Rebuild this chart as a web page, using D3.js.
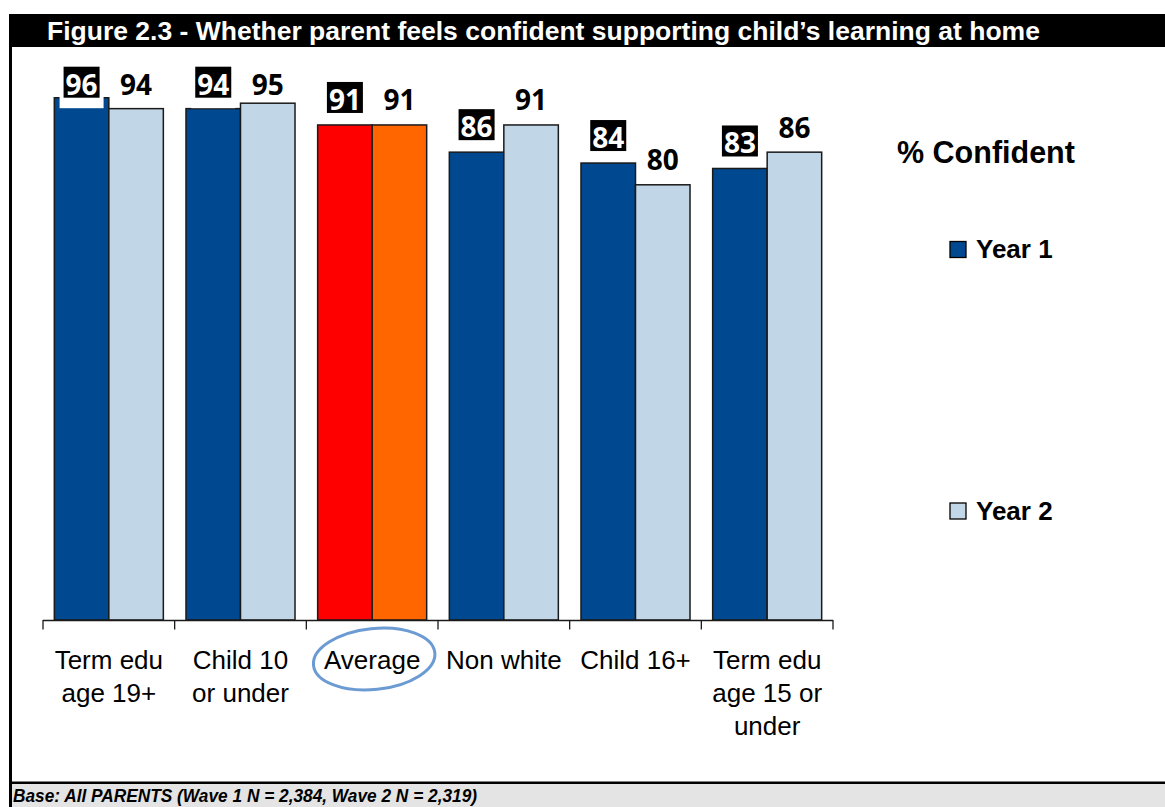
<!DOCTYPE html>
<html>
<head>
<meta charset="utf-8">
<script src="https://cdn.jsdelivr.net/npm/d3@7"></script>
<style>
  html, body { margin: 0; padding: 0; background: #ffffff; }
  svg { display: block; }
</style>
</head>
<body>
<script>
// ---- Data ----
const titleText = "Figure 2.3 - Whether parent feels confident supporting child\u2019s learning at home";
const footerText = "Base: All PARENTS (Wave 1 N = 2,384, Wave 2 N = 2,319)";
const legendTitle = "% Confident";
const seriesNames = ["Year 1", "Year 2"];
const categories = ["Term edu age 19+", "Child 10 or under", "Average", "Non white", "Child 16+", "Term edu age 15 or under"];
const categoryLines = [["Term edu", "age 19+"], ["Child 10", "or under"], ["Average"], ["Non white"], ["Child 16+"], ["Term edu", "age 15 or", "under"]];
const year1 = [96, 94, 91, 86, 84, 83];
const year2 = [94, 95, 91, 91, 80, 86];
const highlightCategory = "Average";

// ---- Styles ----
const W = 1165, H = 807;
const colYear1 = "#004990", colYear2 = "#c1d6e7";
const colAvg1 = "#ff0000", colAvg2 = "#ff6600";

const svg = d3.select("body").append("svg").attr("width", W).attr("height", H);

svg.append("rect").attr("x", 0).attr("y", 0).attr("width", W).attr("height", H).attr("fill", "#fff");

// title bar
svg.append("rect").attr("x", 9).attr("y", 14).attr("width", W - 9).attr("height", 33).attr("fill", "#000");
svg.append("text").attr("x", 47).attr("y", 40)
  .attr("fill", "#fff").attr("font-family", "Liberation Sans, Arial, sans-serif")
  .attr("font-weight", "bold").attr("font-size", 26.5).text(titleText);

// footer
svg.append("rect").attr("x", 12).attr("y", 783).attr("width", W - 12).attr("height", H - 783).attr("fill", "#e4e4e4");
svg.append("rect").attr("x", 9).attr("y", 781.5).attr("width", W - 9).attr("height", 2.5).attr("fill", "#000");
svg.append("text").attr("x", 13).attr("y", 801.5)
  .attr("fill", "#000").attr("font-family", "Liberation Sans, Arial, sans-serif")
  .attr("font-weight", "bold").attr("font-style", "italic").attr("font-size", 19)
  .attr("textLength", 464).attr("lengthAdjust", "spacingAndGlyphs").text(footerText);

// left border
svg.append("rect").attr("x", 9).attr("y", 14).attr("width", 3).attr("height", H - 14).attr("fill", "#000");

// ---- Scales ----
const pad = 0.172;
const x = d3.scaleBand().domain(categories).range([43, 833]).paddingInner(pad).paddingOuter(pad / 2);
const xs = d3.scaleBand().domain(seriesNames).range([0, x.bandwidth()]);
const y = d3.scaleLinear().domain([0, 100]).range([620, 76]);
const step = x.step();

const rows = categories.map((c, i) => ({ cat: c, v1: year1[i], v2: year2[i] }));

const groups = svg.append("g").selectAll("g").data(rows).join("g")
  .attr("transform", d => `translate(${x(d.cat)},0)`);

groups.append("rect")
  .attr("x", xs("Year 1")).attr("width", xs.bandwidth())
  .attr("y", d => y(d.v1)).attr("height", d => y(0) - y(d.v1))
  .attr("fill", d => d.cat === highlightCategory ? colAvg1 : colYear1)
  .attr("stroke", "#1a1a1a").attr("stroke-width", 1.5);
groups.append("rect")
  .attr("x", xs("Year 2")).attr("width", xs.bandwidth())
  .attr("y", d => y(d.v2)).attr("height", d => y(0) - y(d.v2))
  .attr("fill", d => d.cat === highlightCategory ? colAvg2 : colYear2)
  .attr("stroke", "#1a1a1a").attr("stroke-width", 1.5);

// ---- Data labels ----
const boxTopMin = 66.7;
const boxTop = v => Math.max(boxTopMin, y(v) - 43);
const labelFont = "Noto Sans, DejaVu Sans, sans-serif";

groups.append("rect")
  .attr("x", xs("Year 1") + xs.bandwidth() / 2 - 22).attr("width", 44)
  .attr("y", d => boxTop(d.v1)).attr("height", 41.5)
  .attr("fill", "#fff");
groups.append("rect")
  .attr("x", xs("Year 1") + xs.bandwidth() / 2 - 18).attr("width", 36)
  .attr("y", d => boxTop(d.v1)).attr("height", 31)
  .attr("fill", "#000");
groups.append("text")
  .attr("x", xs("Year 1") + xs.bandwidth() / 2)
  .attr("y", d => boxTop(d.v1) + 28)
  .attr("text-anchor", "middle").attr("fill", "#fff")
  .attr("font-family", labelFont).attr("font-weight", "bold").attr("font-size", 28)
  .text(d => d.v1);
groups.append("text")
  .attr("x", xs("Year 2") + xs.bandwidth() / 2)
  .attr("y", d => boxTop(d.v2) + 28.5)
  .attr("text-anchor", "middle").attr("fill", "#000")
  .attr("font-family", labelFont).attr("font-weight", "bold").attr("font-size", 28)
  .text(d => d.v2);

// ---- Axis ----
const axisG = svg.append("g");
axisG.append("line").attr("x1", 43).attr("x2", 833).attr("y1", y(0) + 0.5).attr("y2", y(0) + 0.5)
  .attr("stroke", "#1a1a1a").attr("stroke-width", 1.3);
const bounds = d3.range(categories.length + 1).map(i => x.range()[0] + i * step);
axisG.selectAll("line.tick").data(bounds).join("line").attr("class", "tick")
  .attr("x1", d => d).attr("x2", d => d).attr("y1", y(0)).attr("y2", y(0) + 9.5)
  .attr("stroke", "#1a1a1a").attr("stroke-width", 1.3);

// category labels
const catG = svg.append("g").selectAll("text").data(categories).join("text")
  .attr("x", d => x(d) + x.bandwidth() / 2)
  .attr("y", 669)
  .attr("text-anchor", "middle").attr("fill", "#000")
  .attr("font-family", "Liberation Sans, Arial, sans-serif").attr("font-size", 26);
catG.each(function (d, i) {
  const t = d3.select(this);
  categoryLines[i].forEach((ln, j) => {
    t.append("tspan").attr("x", x(d) + x.bandwidth() / 2).attr("dy", j === 0 ? 0 : 33).text(ln);
  });
});

// highlight ellipse around Average
const ecx = x(highlightCategory) + x.bandwidth() / 2 + 2;
svg.append("ellipse")
  .attr("cx", ecx).attr("cy", 659)
  .attr("rx", 61).attr("ry", 30.5)
  .attr("transform", `rotate(-6 ${ecx} 659)`)
  .attr("fill", "none").attr("stroke", "#6b9bd2").attr("stroke-width", 3);

// ---- Legend ----
svg.append("text").attr("x", 897).attr("y", 163)
  .attr("font-family", "Liberation Sans, Arial, sans-serif").attr("font-weight", "bold")
  .attr("font-size", 30.5).attr("fill", "#000").text(legendTitle);
const legendY = [241.5, 503];
const legendCols = [colYear1, colYear2];
const leg = svg.append("g").selectAll("g").data(seriesNames).join("g");
leg.append("rect").attr("x", 950).attr("y", (d, i) => legendY[i]).attr("width", 16).attr("height", 16)
  .attr("fill", (d, i) => legendCols[i]).attr("stroke", "#000").attr("stroke-width", 1.3);
leg.append("text").attr("x", 976).attr("y", (d, i) => legendY[i] + 16.5)
  .attr("font-family", "Liberation Sans, Arial, sans-serif").attr("font-weight", "bold")
  .attr("font-size", 26).attr("fill", "#000").text(d => d);
</script>
</body>
</html>
